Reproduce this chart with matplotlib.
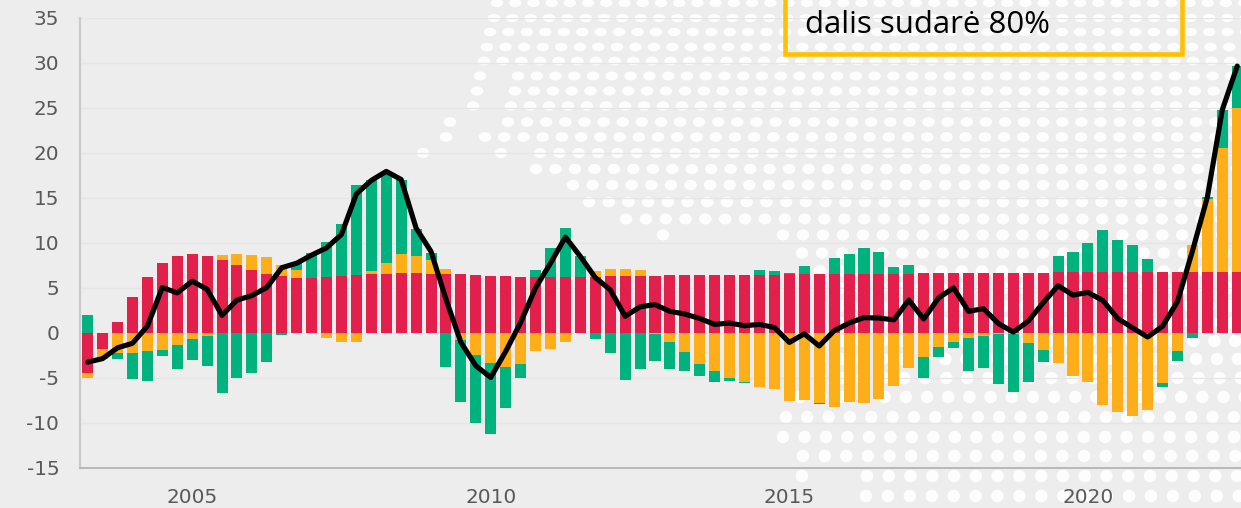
import numpy as np
import matplotlib
matplotlib.use('Agg')
import matplotlib.pyplot as plt
from matplotlib.patches import Ellipse, Rectangle

plt.rcParams['axes.unicode_minus'] = False

# quarterly contributions, 2003 Q2 .. 2022 Q3
red = [-4.55, -1.8, 1.2, 4.0, 6.2, 7.7, 8.5, 8.7, 8.5, 8.05, 7.5, 7.0, 6.55, 6.25, 6.1, 6.05, 6.15, 6.25, 6.35, 6.45,
       6.55, 6.6, 6.6, 6.55, 6.5, 6.45, 6.4, 6.3, 6.27, 6.2, 6.2, 6.2, 6.2, 6.2, 6.2, 6.25, 6.3, 6.3, 6.3, 6.35,
       6.35, 6.4, 6.4, 6.4, 6.4, 6.4, 6.4, 6.45, 6.5, 6.5, 6.55, 6.55, 6.55, 6.55, 6.55, 6.55, 6.6, 6.6, 6.6, 6.6,
       6.6, 6.6, 6.6, 6.6, 6.6, 6.7, 6.7, 6.7, 6.7, 6.7, 6.7, 6.7, 6.75, 6.75, 6.75, 6.75, 6.75, 6.75]
orange = [-0.55, -1.1, -2.25, -2.3, -2.1, -1.9, -1.35, -0.75, -0.35, 0.6, 1.2, 1.65, 1.85, 1.3, 0.8, -0.1, -0.65, -1.05, -1.0, 0.35,
          1.2, 2.1, 1.85, 1.5, 0.6, -0.85, -2.5, -3.4, -3.8, -3.55, -2.1, -1.8, -1.0, -0.05, 0.65, 0.85, 0.8, 0.6, -0.2, -1.05,
          -2.2, -3.45, -4.3, -5.0, -5.5, -6.0, -6.3, -7.65, -7.55, -7.85, -8.3, -7.75, -7.85, -7.4, -5.9, -3.9, -2.75, -1.6, -1.05, -0.65,
          -0.4, -0.2, -0.2, -1.2, -1.9, -3.4, -4.8, -5.5, -8.0, -8.85, -9.3, -8.65, -5.6, -2.0, 2.95, 8.1, 13.75, 18.15]
green = [1.9, 0, -0.65, -2.9, -3.3, -0.75, -2.65, -2.25, -3.35, -6.7, -5.1, -4.5, -3.25, -0.25, 0.85, 2.8, 3.95, 5.8, 10.05, 10.1,
         10.0, 8.25, 3.1, 0.8, -3.85, -6.85, -7.6, -7.85, -4.6, -1.55, 0.7, 3.2, 5.4, 2.35, -0.7, -2.3, -5.3, -4.05, -3.0, -2.95,
         -2.1, -1.4, -1.25, -0.4, -0.15, 0.5, 0.45, 0.15, 0.9, -0.1, 1.75, 2.15, 2.8, 2.35, 0.75, 0.95, -2.35, -1.15, -0.7, -3.6,
         -3.55, -5.55, -6.4, -4.25, -1.4, 1.8, 2.3, 3.25, 4.7, 3.6, 3.05, 1.5, -0.4, -1.2, -0.65, 0.2, 4.25, 4.7]
total = [-3.3, -2.9, -1.7, -1.2, 0.7, 5.0, 4.4, 5.7, 4.8, 1.9, 3.6, 4.1, 5.0, 7.2, 7.7, 8.6, 9.4, 10.9, 15.4, 16.9,
         17.9, 17.0, 11.6, 9.0, 3.7, -1.1, -3.7, -5.0, -2.1, 1.1, 4.95, 7.7, 10.6, 8.45, 6.1, 4.75, 1.8, 2.85, 3.1, 2.35,
         2.05, 1.55, 0.9, 1.05, 0.75, 0.9, 0.55, -1.1, -0.15, -1.5, 0.2, 1.05, 1.65, 1.6, 1.4, 3.6, 1.5, 3.85, 4.95, 2.35,
         2.65, 1.0, 0.05, 1.25, 3.3, 5.2, 4.15, 4.45, 3.55, 1.55, 0.5, -0.5, 0.7, 3.45, 9.05, 15.05, 24.75, 29.6]

year_labels = ['2005', '2010', '2015', '2020']
year_index = [7, 27, 47, 67]
y_ticks = list(range(-15, 40, 5))

W, H = 1241, 508
BG = '#EDEDED'
fig = plt.figure(figsize=(W / 100, H / 100), dpi=100, facecolor=BG)

# dotted map in the background, pixel coordinates
bg = fig.add_axes([0, 0, 1, 1], zorder=0)
bg.set_xlim(0, W)
bg.set_ylim(H, 0)
bg.axis('off')

row_y = [3, 18, 32, 47, 61, 76, 91, 106, 122, 137, 153, 169, 185, 202, 219, 235, 253, 271,
         288, 306, 323, 341, 359, 378, 397, 417, 437, 456, 476, 496]
row_start = [497, 494, 490, 487, 484, 518, 515, 511, 508, 485, 540, 536, 573, 589, 626, 783, 802, 820,
             820, 820, 820, 820, 820, 820, 800, 786, 783, 803, 867, 866]
lone_x = [480, 477, 473, 450, 446, 423, 501, 663, 802]
lone_y = [76, 91, 106, 122, 137, 153, 153, 235, 476]


def dot(x, y):
    h = 8 + 4.5 * min(y / 340, 1)
    bg.add_patch(Ellipse((x, y), 12.5, h, fc='white', ec='none', alpha=0.92))


for y, x0 in zip(row_y, row_start):
    dx = 18.2 + 0.0075 * y
    for x in np.arange(x0, W + 10, dx):
        dot(x, y)
for x, y in zip(lone_x, lone_y):
    dot(x, y)

# plot area runs slightly past the right edge, last bar is cut off
left, right = 80.2, 1244.7
top, bottom = 17.5, 467.5
ax = fig.add_axes([left / W, 1 - bottom / H, (right - left) / W, (bottom - top) / H], zorder=1)
ax.patch.set_alpha(0)

x = np.arange(len(red))
pos = np.zeros(len(red))
neg = np.zeros(len(red))
for vals, col in [(red, '#E3204B'), (orange, '#FEAE19'), (green, '#00B37E')]:
    vals = np.array(vals)
    base = np.where(vals >= 0, pos, neg)
    ax.bar(x, vals, bottom=base, width=0.74, color=col, linewidth=0, zorder=2)
    pos += np.clip(vals, 0, None)
    neg += np.clip(vals, None, 0)

ax.plot(x, total, color='black', lw=3.7, solid_capstyle='round', solid_joinstyle='round', zorder=3)

ax.set_xlim(-0.5, len(red) - 0.5)
ax.set_ylim(-15, 35)
ax.set_yticks(y_ticks)
ax.set_xticks(year_index)
ax.set_xticklabels(year_labels)
ax.tick_params(axis='both', length=0, labelsize=14.4, labelcolor='#595959')
ax.tick_params(axis='y', pad=15)
ax.tick_params(axis='x', pad=15)
ax.grid(axis='y', color='#E5E5E5', lw=1, zorder=1)
ax.set_axisbelow(True)
for s in ['top', 'right']:
    ax.spines[s].set_visible(False)
ax.spines['left'].set_color('#CACACA')
ax.spines['left'].set_linewidth(1.6)
ax.spines['bottom'].set_color('#B4B4B4')
ax.spines['bottom'].set_linewidth(1.3)

# callout box, cut off by the top of the picture
over = fig.add_axes([0, 0, 1, 1], zorder=2)
over.set_xlim(0, W)
over.set_ylim(H, 0)
over.axis('off')
over.add_patch(Rectangle((785, -30), 397, 84, fc='none', ec='#FFC000', lw=3.3))
over.text(805, 25, 'dalis sudarė 80%', fontsize=22.4, family='Open Sans', color='black', va='center', ha='left')

plt.savefig('out.png', dpi=100, facecolor=BG)
